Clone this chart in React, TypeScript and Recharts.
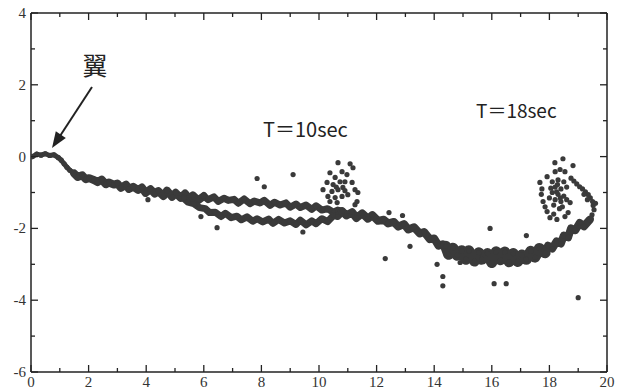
import { ScatterChart, Scatter, XAxis, YAxis, Curve } from 'recharts'

// values, [x, y]
const xTicks = [0, 1, 2, 3, 4, 5, 6, 7, 8, 9, 10, 11, 12, 13, 14, 15, 16, 17, 18, 19, 20]
const yTicks = [-6, -5, -4, -3, -2, -1, 0, 1, 2, 3, 4]

const wingBand = [
  [0.05, 0.0], [0.2, 0.07], [0.35, 0.04], [0.5, 0.08], [0.65, 0.03], [0.8, 0.05], [0.95, -0.03],
  [1.05, -0.1], [1.15, -0.2], [1.25, -0.3], [1.35, -0.38], [1.5, -0.47],
]

const mainBand = [
  [1.5, -0.47], [1.62, -0.57], [1.78, -0.52], [1.9, -0.63], [2.02, -0.6], [2.2, -0.66], [2.31, -0.71],
  [2.45, -0.64], [2.6, -0.77], [2.7, -0.72], [2.88, -0.78], [3.0, -0.75], [3.12, -0.87], [3.3, -0.78],
  [3.4, -0.9], [3.55, -0.84], [3.72, -0.93], [3.85, -0.86], [3.98, -1.01], [4.15, -0.91], [4.3, -1.03],
  [4.42, -0.96], [4.6, -1.1], [4.72, -0.95], [4.9, -1.12], [5.02, -1.01], [5.2, -1.15], [5.35, -1.03],
  [5.5, -1.2], [5.62, -1.08], [5.8, -1.22], [6.0, -1.1],
]

const upperBand = [
  [6.0, -1.1], [6.15, -1.2], [6.35, -1.12], [6.5, -1.25], [6.7, -1.16], [6.85, -1.22], [7.05, -1.19],
  [7.2, -1.3], [7.4, -1.18], [7.6, -1.31], [7.75, -1.24], [7.95, -1.29], [8.1, -1.22], [8.3, -1.36],
  [8.45, -1.27], [8.65, -1.35], [8.85, -1.29], [9.0, -1.41], [9.2, -1.32], [9.35, -1.42], [9.55, -1.35],
  [9.75, -1.47], [9.9, -1.37], [10.1, -1.49], [10.3, -1.45], [10.5, -1.55], [10.65, -1.49], [10.8, -1.52],
]

const lowerBand = [
  [5.3, -1.16], [5.45, -1.27], [5.65, -1.31], [5.85, -1.42], [6.05, -1.45], [6.2, -1.56], [6.4, -1.55],
  [6.6, -1.67], [6.75, -1.58], [6.95, -1.7], [7.15, -1.66], [7.3, -1.76], [7.5, -1.68], [7.7, -1.8],
  [7.85, -1.73], [8.05, -1.82], [8.25, -1.74], [8.4, -1.86], [8.6, -1.75], [8.8, -1.85], [9.0, -1.79],
  [9.2, -1.89], [9.35, -1.77], [9.55, -1.9], [9.75, -1.79], [9.9, -1.87], [10.1, -1.73], [10.3, -1.81],
  [10.5, -1.64], [10.65, -1.67], [10.8, -1.55],
]

const mergedBand = [
  [10.8, -1.52], [10.95, -1.64], [11.15, -1.55], [11.3, -1.71], [11.5, -1.58], [11.7, -1.73], [11.85, -1.63],
  [12.05, -1.79], [12.25, -1.76], [12.4, -1.86], [12.6, -1.82], [12.75, -1.95], [12.95, -1.88], [13.1, -2.03],
  [13.3, -1.97], [13.5, -2.14], [13.65, -2.1], [13.85, -2.3], [14.0, -2.28], [14.15, -2.48], [14.3, -2.44],
  [14.4, -2.5],
]

const troughBand = [
  [14.4, -2.5], [14.5, -2.72], [14.65, -2.55], [14.8, -2.75], [14.95, -2.62], [15.1, -2.86], [15.2, -2.62],
  [15.4, -2.91], [15.55, -2.68], [15.65, -2.86], [15.85, -2.7], [16.0, -2.95], [16.15, -2.65], [16.3, -2.87],
  [16.45, -2.66], [16.6, -2.93], [16.75, -2.7], [16.9, -2.92], [17.05, -2.74], [17.2, -2.86], [17.35, -2.64],
  [17.5, -2.8], [17.65, -2.56], [17.85, -2.68],
]

const riseBand = [
  [17.85, -2.68], [17.95, -2.48], [18.1, -2.56], [18.25, -2.36], [18.4, -2.42], [18.5, -2.2], [18.65, -2.25],
  [18.75, -2.0], [18.9, -2.05], [19.05, -1.85], [19.2, -1.94], [19.4, -1.76],
]

const hook18 = [
  [19.48, -1.62], [19.55, -1.48], [19.52, -1.36], [19.5, -1.25], [19.42, -1.15], [19.35, -1.06], [19.25, -0.98],
  [19.15, -0.9], [19.05, -0.84], [18.95, -0.76], [18.85, -0.68], [18.75, -0.6], [19.6, -1.3], [19.45, -1.72],
  [19.32, -1.2], [19.2, -1.05],
]

const cluster18 = [
  [18.47, -0.06], [18.82, -0.25], [18.19, -0.17], [17.92, -0.56], [18.2, -0.42], [18.37, -0.36], [18.54, -0.42],
  [17.67, -0.72], [17.74, -0.9], [17.72, -1.05], [17.78, -1.25], [17.85, -1.4], [17.92, -1.53], [18.02, -1.7],
  [18.26, -1.75], [18.15, -1.6], [18.1, -0.7], [18.3, -0.65], [18.5, -0.7], [18.2, -0.85], [18.4, -0.9],
  [18.6, -0.85], [18.1, -1.0], [18.3, -1.05], [18.5, -1.1], [18.2, -1.2], [18.4, -1.25], [18.6, -1.2],
  [18.72, -1.28], [18.65, -1.56], [18.54, -1.67], [18.35, -1.45], [18.15, -1.35], [18.05, -0.88], [18.45, -1.4],
  [18.0, -1.15], [18.25, -0.98], [18.38, -1.15], [18.28, -0.78],
]

const cluster10 = [
  [10.66, -0.17], [11.08, -0.2], [11.18, -0.31], [10.38, -0.45], [10.8, -0.42], [10.97, -0.5], [10.56, -0.58],
  [10.73, -0.7], [10.9, -0.7], [10.28, -0.72], [10.49, -0.78], [11.15, -0.72], [10.14, -0.92], [10.45, -0.97],
  [10.66, -0.92], [10.83, -0.86], [11.25, -0.92], [11.35, -1.0], [10.31, -1.11], [10.56, -1.14], [10.8, -1.11],
  [11.0, -1.06], [11.32, -1.25], [10.63, -1.28], [10.38, -1.25], [11.25, -1.34], [10.6, -0.85], [10.9, -0.95],
]

const strays = [
  [4.06, -1.2], [5.9, -1.67], [6.46, -1.98], [7.85, -0.61], [8.1, -0.84], [9.1, -0.5], [9.44, -2.1],
  [12.3, -2.84], [13.16, -2.5], [12.43, -1.56], [12.9, -1.64], [14.1, -3.0], [14.3, -3.34], [14.3, -3.6],
  [14.9, -2.95], [15.94, -2.0], [16.08, -3.54], [16.5, -3.54], [17.2, -2.2], [19.0, -3.93],
]

const toPts = (a: number[][]) => a.map(([x, y]) => ({ x, y }))

const INK = '#3a3a3a'
const serif = "'Liberation Serif', 'DejaVu Serif', serif"

const Dot = (p: any) => <circle cx={p.cx} cy={p.cy} r={2.6} fill={INK} />

// thick joined line under the dots so the dense bands read as one smudge
const band = (w: number) => (p: any) => (
  <Curve points={p.points} type="linear" fill="none" stroke={INK} strokeWidth={w}
    strokeLinejoin="round" strokeLinecap="round" />
)

const BottomTick = (p: any) => {
  const v = p.payload.value
  const major = v % 2 === 0
  return (
    <g>
      <line x1={p.x} y1={p.y} x2={p.x} y2={p.y - (major ? 7 : 4)} stroke="#222" strokeWidth={1.3} />
      {major && (
        <text x={p.x} y={p.y + 15} textAnchor="middle" fontFamily={serif} fontSize={15} fill="#333">
          {v}
        </text>
      )}
    </g>
  )
}

const LeftTick = (p: any) => {
  const v = p.payload.value
  const major = v % 2 === 0
  return (
    <g>
      <line x1={p.x} y1={p.y} x2={p.x + (major ? 7 : 4)} y2={p.y} stroke="#222" strokeWidth={1.3} />
      {major && (
        <text x={p.x - 5} y={p.y + 5} textAnchor="end" fontFamily={serif} fontSize={15} fill="#333">
          {v}
        </text>
      )}
    </g>
  )
}

const TopTick = (p: any) => {
  const major = p.payload.value % 2 === 0
  return <line x1={p.x} y1={p.y} x2={p.x} y2={p.y + (major ? 7 : 4)} stroke="#222" strokeWidth={1.3} />
}

const RightTick = (p: any) => {
  const major = p.payload.value % 2 === 0
  return <line x1={p.x} y1={p.y} x2={p.x - (major ? 7 : 4)} y2={p.y} stroke="#222" strokeWidth={1.3} />
}

export default function App() {
  const axisLine = { stroke: '#222', strokeWidth: 1.5 }
  return (
    <div style={{ position: 'absolute', left: 0, top: 0, width: 627, height: 389, background: '#fff' }}>
      <ScatterChart width={627} height={389} margin={{ top: 12, right: 19, bottom: 0, left: 0 }}>
        <XAxis type="number" dataKey="x" domain={[0, 20]} ticks={xTicks} interval={0} allowDataOverflow
          height={17} tickSize={0} tickMargin={0} tickLine={false} axisLine={axisLine} tick={BottomTick} />
        <YAxis type="number" dataKey="y" domain={[-6, 4]} ticks={yTicks} interval={0} allowDataOverflow
          width={31} tickSize={0} tickMargin={0} tickLine={false} axisLine={axisLine} tick={LeftTick} />
        <XAxis xAxisId="top" orientation="top" type="number" dataKey="x" domain={[0, 20]} ticks={xTicks} interval={0}
          allowDataOverflow height={1} tickSize={0} tickMargin={0} tickLine={false} axisLine={axisLine} tick={TopTick} />
        <YAxis yAxisId="right" orientation="right" type="number" dataKey="y" domain={[-6, 4]} ticks={yTicks} interval={0}
          allowDataOverflow width={1} tickSize={0} tickMargin={0} tickLine={false} axisLine={axisLine} tick={RightTick} />
        <Scatter xAxisId="top" yAxisId="right" data={toPts(strays)} fill={INK} shape={Dot} isAnimationActive={false} />

        <Scatter data={toPts(wingBand)} fill={INK} line={band(5)} shape={Dot} isAnimationActive={false} />
        <Scatter data={toPts(mainBand)} fill={INK} line={band(8)} shape={Dot} isAnimationActive={false} />
        <Scatter data={toPts(upperBand)} fill={INK} line={band(7)} shape={Dot} isAnimationActive={false} />
        <Scatter data={toPts(lowerBand)} fill={INK} line={band(7)} shape={Dot} isAnimationActive={false} />
        <Scatter data={toPts(mergedBand)} fill={INK} line={band(8)} shape={Dot} isAnimationActive={false} />
        <Scatter data={toPts(troughBand)} fill={INK} line={band(11)} shape={Dot} isAnimationActive={false} />
        <Scatter data={toPts(riseBand)} fill={INK} line={band(8)} shape={Dot} isAnimationActive={false} />
        <Scatter data={toPts(hook18)} fill={INK} shape={Dot} isAnimationActive={false} />
        <Scatter data={toPts(cluster18)} fill={INK} shape={Dot} isAnimationActive={false} />
        <Scatter data={toPts(cluster10)} fill={INK} shape={Dot} isAnimationActive={false} />
      </ScatterChart>

      <svg width={627} height={389} style={{ position: 'absolute', left: 0, top: 0, pointerEvents: 'none' }}>
        <text x={95} y={75} textAnchor="middle" fontFamily="'Noto Sans CJK JP'" fontSize={25} fill="#222">翼</text>
        <line x1={92} y1={87} x2={60} y2={136} stroke="#222" strokeWidth={2} />
        <polygon points="52,148 65.8,137.9 55.8,131.3" fill="#222" />
        <text x={263} y={137} fontFamily="'Noto Sans CJK JP'" fontSize={20} fill="#222">T＝10sec</text>
        <text x={476} y={118} fontFamily="'Noto Sans CJK JP'" fontSize={19} fill="#222">T＝18sec</text>
      </svg>
    </div>
  )
}
